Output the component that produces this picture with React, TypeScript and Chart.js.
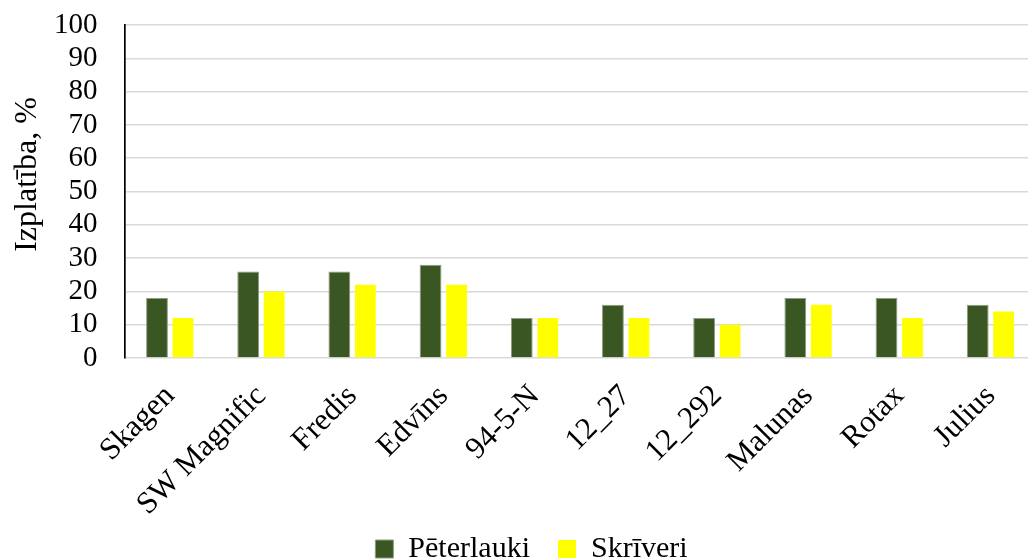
import React, { useEffect, useRef } from "react";
import { Chart, registerables } from "chart.js";

Chart.register(...registerables);

const categories = ["Skagen", "SW Magnific", "Fredis", "Edvīns", "94-5-N", "12_27", "12_292", "Malunas", "Rotax", "Julius"];
const peterlauki = [18, 26, 26, 28, 12, 16, 12, 18, 18, 16];
const skriveri = [12, 20, 22, 22, 12, 12, 10, 16, 12, 14];
const seriesNames = ["Pēterlauki", "Skrīveri"];
const yTitle = "Izplatība, %";

const FONT = '"Liberation Serif", "Times New Roman", serif';

export default function App() {
  const ref = useRef<HTMLCanvasElement | null>(null);

  useEffect(() => {
    document.body.style.margin = "0";
    const ctx = ref.current!;
    const chart = new Chart(ctx, {
      type: "bar",
      data: {
        labels: categories,
        datasets: [
          {
            label: seriesNames[0],
            data: peterlauki,
            backgroundColor: "#3a5723",
            borderColor: "#8c9c80",
            borderWidth: 1,
            categoryPercentage: 0.57,
            barPercentage: 0.84,
          },
          {
            label: seriesNames[1],
            data: skriveri,
            backgroundColor: "#ffff00",
            borderWidth: 0,
            categoryPercentage: 0.57,
            barPercentage: 0.8,
          },
        ],
      },
      options: {
        animation: false,
        responsive: true,
        maintainAspectRatio: false,
        devicePixelRatio: 1,
        layout: { padding: { left: 26, top: 0, right: 0, bottom: -14 } },
        plugins: {
          tooltip: { enabled: false },
          legend: {
            position: "bottom",
            labels: {
              color: "#000",
              font: { family: FONT, size: 30 },
              boxWidth: 18,
              boxHeight: 18,
              padding: 28,
            },
          },
        },
        scales: {
          x: {
            grid: { display: false, drawTicks: false },
            border: { display: false },
            ticks: {
              color: "#000",
              font: { family: FONT, size: 31 },
              maxRotation: 45,
              minRotation: 45,
              padding: 20,
              autoSkip: false,
            },
            afterFit: (s: any) => {
              s.height = 148;
              s._computeLabelArea = () => undefined;
            },
          },
          y: {
            min: 0,
            max: 100,
            ticks: {
              stepSize: 10,
              autoSkip: false,
              color: "#000",
              font: { family: FONT, size: 29 },
              padding: 27,
            },
            grid: { color: "#d9d9d9", lineWidth: 1.5, drawTicks: false },
            border: { display: true, color: "#000", width: 1.7 },
            title: {
              display: true,
              text: yTitle,
              color: "#000",
              font: { family: FONT, size: 32 },
              padding: { top: -18, bottom: 0 },
            },
            afterFit: (s: any) => {
              s.width = 98.4;
              s.paddingTop = 25;
              s.paddingBottom = 0;
              if (!s._titleShifted) {
                const orig = Object.getPrototypeOf(s).drawTitle;
                s.drawTitle = function () {
                  this.ctx.save();
                  this.ctx.translate(0, -17);
                  orig.call(this);
                  this.ctx.restore();
                };
                s._titleShifted = true;
              }
            },
          },
        },
      },
    });
    return () => chart.destroy();
  }, []);

  return (
    <div style={{ position: "fixed", left: 0, top: 0, width: 1028, height: 560, overflow: "hidden", background: "#fff" }}>
      <div style={{ position: "relative", width: 1037, height: 560 }}>
        <canvas ref={ref} />
      </div>
    </div>
  );
}
